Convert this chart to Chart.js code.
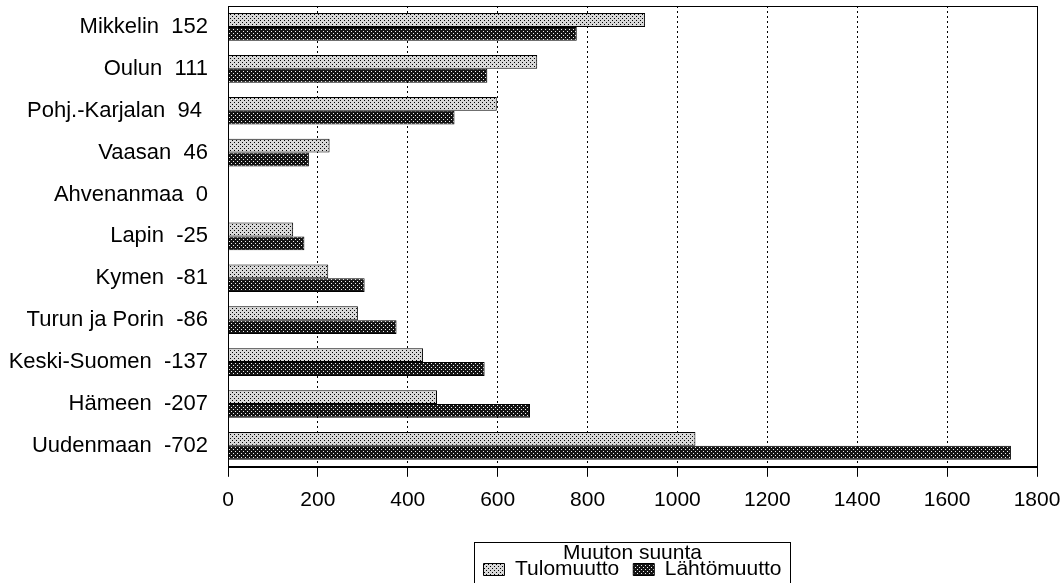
<!DOCTYPE html>
<html>
<head>
<meta charset="utf-8">
<script src="https://cdn.jsdelivr.net/npm/chart.js@4.4.0/dist/chart.umd.min.js"></script>
<style>
    html, body { margin: 0; padding: 0; background: #fff; overflow: hidden; }
    body { height: 583px; }
    #wrap { width: 1062px; height: 590px; }
</style>
</head>
<body>
<div id="wrap"><canvas id="chart"></canvas></div>
<script>
// regions (lääni) and net migration shown next to the name
var regions = ['Mikkelin', 'Oulun', 'Pohj.-Karjalan', 'Vaasan', 'Ahvenanmaa', 'Lapin', 'Kymen', 'Turun ja Porin', 'Keski-Suomen', 'Hämeen', 'Uudenmaan'];
var netMigration = [152, 111, 94, 46, 0, -25, -81, -86, -137, -207, -702];
var tulomuutto = [928, 688, 598, 226, 0, 145, 223, 289, 434, 465, 1040];
var lahtomuutto = [776, 577, 504, 180, 0, 170, 304, 375, 571, 672, 1742];
var xTicks = [0, 200, 400, 600, 800, 1000, 1200, 1400, 1600, 1800];

var labels = regions.map(function (r, i) {
    var extra = r === 'Pohj.-Karjalan' ? ' ' : '';
    return r + '  ' + netMigration[i] + extra;
});

Chart.defaults.font.family = "'Liberation Sans', Arial, sans-serif";
Chart.defaults.color = '#000';

var ctx = document.getElementById('chart').getContext('2d');

// small dot patterns, like the printed hatching
function makePattern(bg, fg, dots) {
    var c = document.createElement('canvas');
    c.width = 4;
    c.height = 4;
    var p = c.getContext('2d');
    p.fillStyle = bg;
    p.fillRect(0, 0, 4, 4);
    p.fillStyle = fg;
    dots.forEach(function (d) { p.fillRect(d[0], d[1], 1, 1); });
    return ctx.createPattern(c, 'repeat');
}

var lightPattern = makePattern('#d8d8d8', '#000', [[0, 0], [2, 2]]);
var darkPattern = makePattern('#141414', '#f0f0f0', [[1, 1], [3, 3]]);

var legendBoxOffset = 20;

// frame round the plot + box round the legend
var framePlugin = {
    id: 'frame',
    afterDraw: function (chart) {
        var a = chart.chartArea;
        var c = chart.ctx;
        c.save();
        c.strokeStyle = '#000';
        c.lineWidth = 1;
        c.setLineDash([]);
        c.strokeRect(Math.round(a.left) + 0.5, Math.round(a.top) + 0.5, Math.round(a.right - a.left), Math.round(a.bottom - a.top));
        var lg = chart.legend;
        if (lg && lg.legendHitBoxes.length) {
            var l = Infinity, r = -Infinity;
            lg.legendHitBoxes.forEach(function (h) {
                l = Math.min(l, h.left);
                r = Math.max(r, h.left + h.width);
            });
            var top = Math.round(lg.top + legendBoxOffset) + 0.5;
            c.strokeRect(Math.round(l) - 8.5, top, Math.round(r - l) + 18, chart.height - top + 5);
        }
        c.restore();
    }
};

new Chart(ctx, {
    type: 'bar',
    data: {
        labels: labels,
        datasets: [{
            label: 'Tulomuutto',
            data: tulomuutto,
            backgroundColor: lightPattern,
            borderColor: '#000',
            borderWidth: 1,
            categoryPercentage: 0.66,
            barPercentage: 1.0
        },
        {
            label: 'Lähtömuutto',
            data: lahtomuutto,
            backgroundColor: darkPattern,
            borderColor: '#000',
            borderWidth: 1,
            categoryPercentage: 0.66,
            barPercentage: 1.0
        }]
    },
    options: {
        indexAxis: 'y',
        responsive: true,
        maintainAspectRatio: false,
        animation: false,
        layout: { autoPadding: false, padding: { top: 6, right: 25, left: 0, bottom: 0 } },
        scales: {
            x: {
                min: 0,
                max: 1800,
                afterBuildTicks: function (scale) {
                    scale.ticks = xTicks.map(function (v) { return { value: v }; });
                },
                grid: { color: '#000', lineWidth: 1, drawTicks: true, tickLength: 10, tickColor: '#000', tickBorderDash: [] },
                border: { display: true, color: '#000', width: 1, dash: [2, 3] },
                ticks: {
                    color: '#000', font: { size: 21 }, padding: 11, maxRotation: 0, autoSkip: false,
                    callback: function (v) { return String(v); }
                },
                afterFit: function (scale) {
                    scale.height = 55;
                    scale.paddingLeft = 0;
                    scale.paddingRight = 0;
                }
            },
            y: {
                grid: { display: false, drawTicks: false },
                border: { display: true, color: '#000', width: 1 },
                ticks: { color: '#000', font: { size: 22 }, padding: 20, autoSkip: false },
                afterFit: function (scale) {
                    scale.width = 228;
                    scale.paddingTop = 0;
                    scale.paddingBottom = 0;
                }
            }
        },
        plugins: {
            tooltip: { enabled: false },
            legend: {
                position: 'bottom',
                fullSize: false,
                labels: { boxWidth: 21, boxHeight: 12, color: '#000', font: { size: 21 }, padding: 14 },
                title: { display: true, text: 'Muuton suunta', color: '#000', font: { size: 21 }, padding: { top: 21, bottom: -23 } }
            }
        }
    },
    plugins: [framePlugin]
});
</script>
</body>
</html>
